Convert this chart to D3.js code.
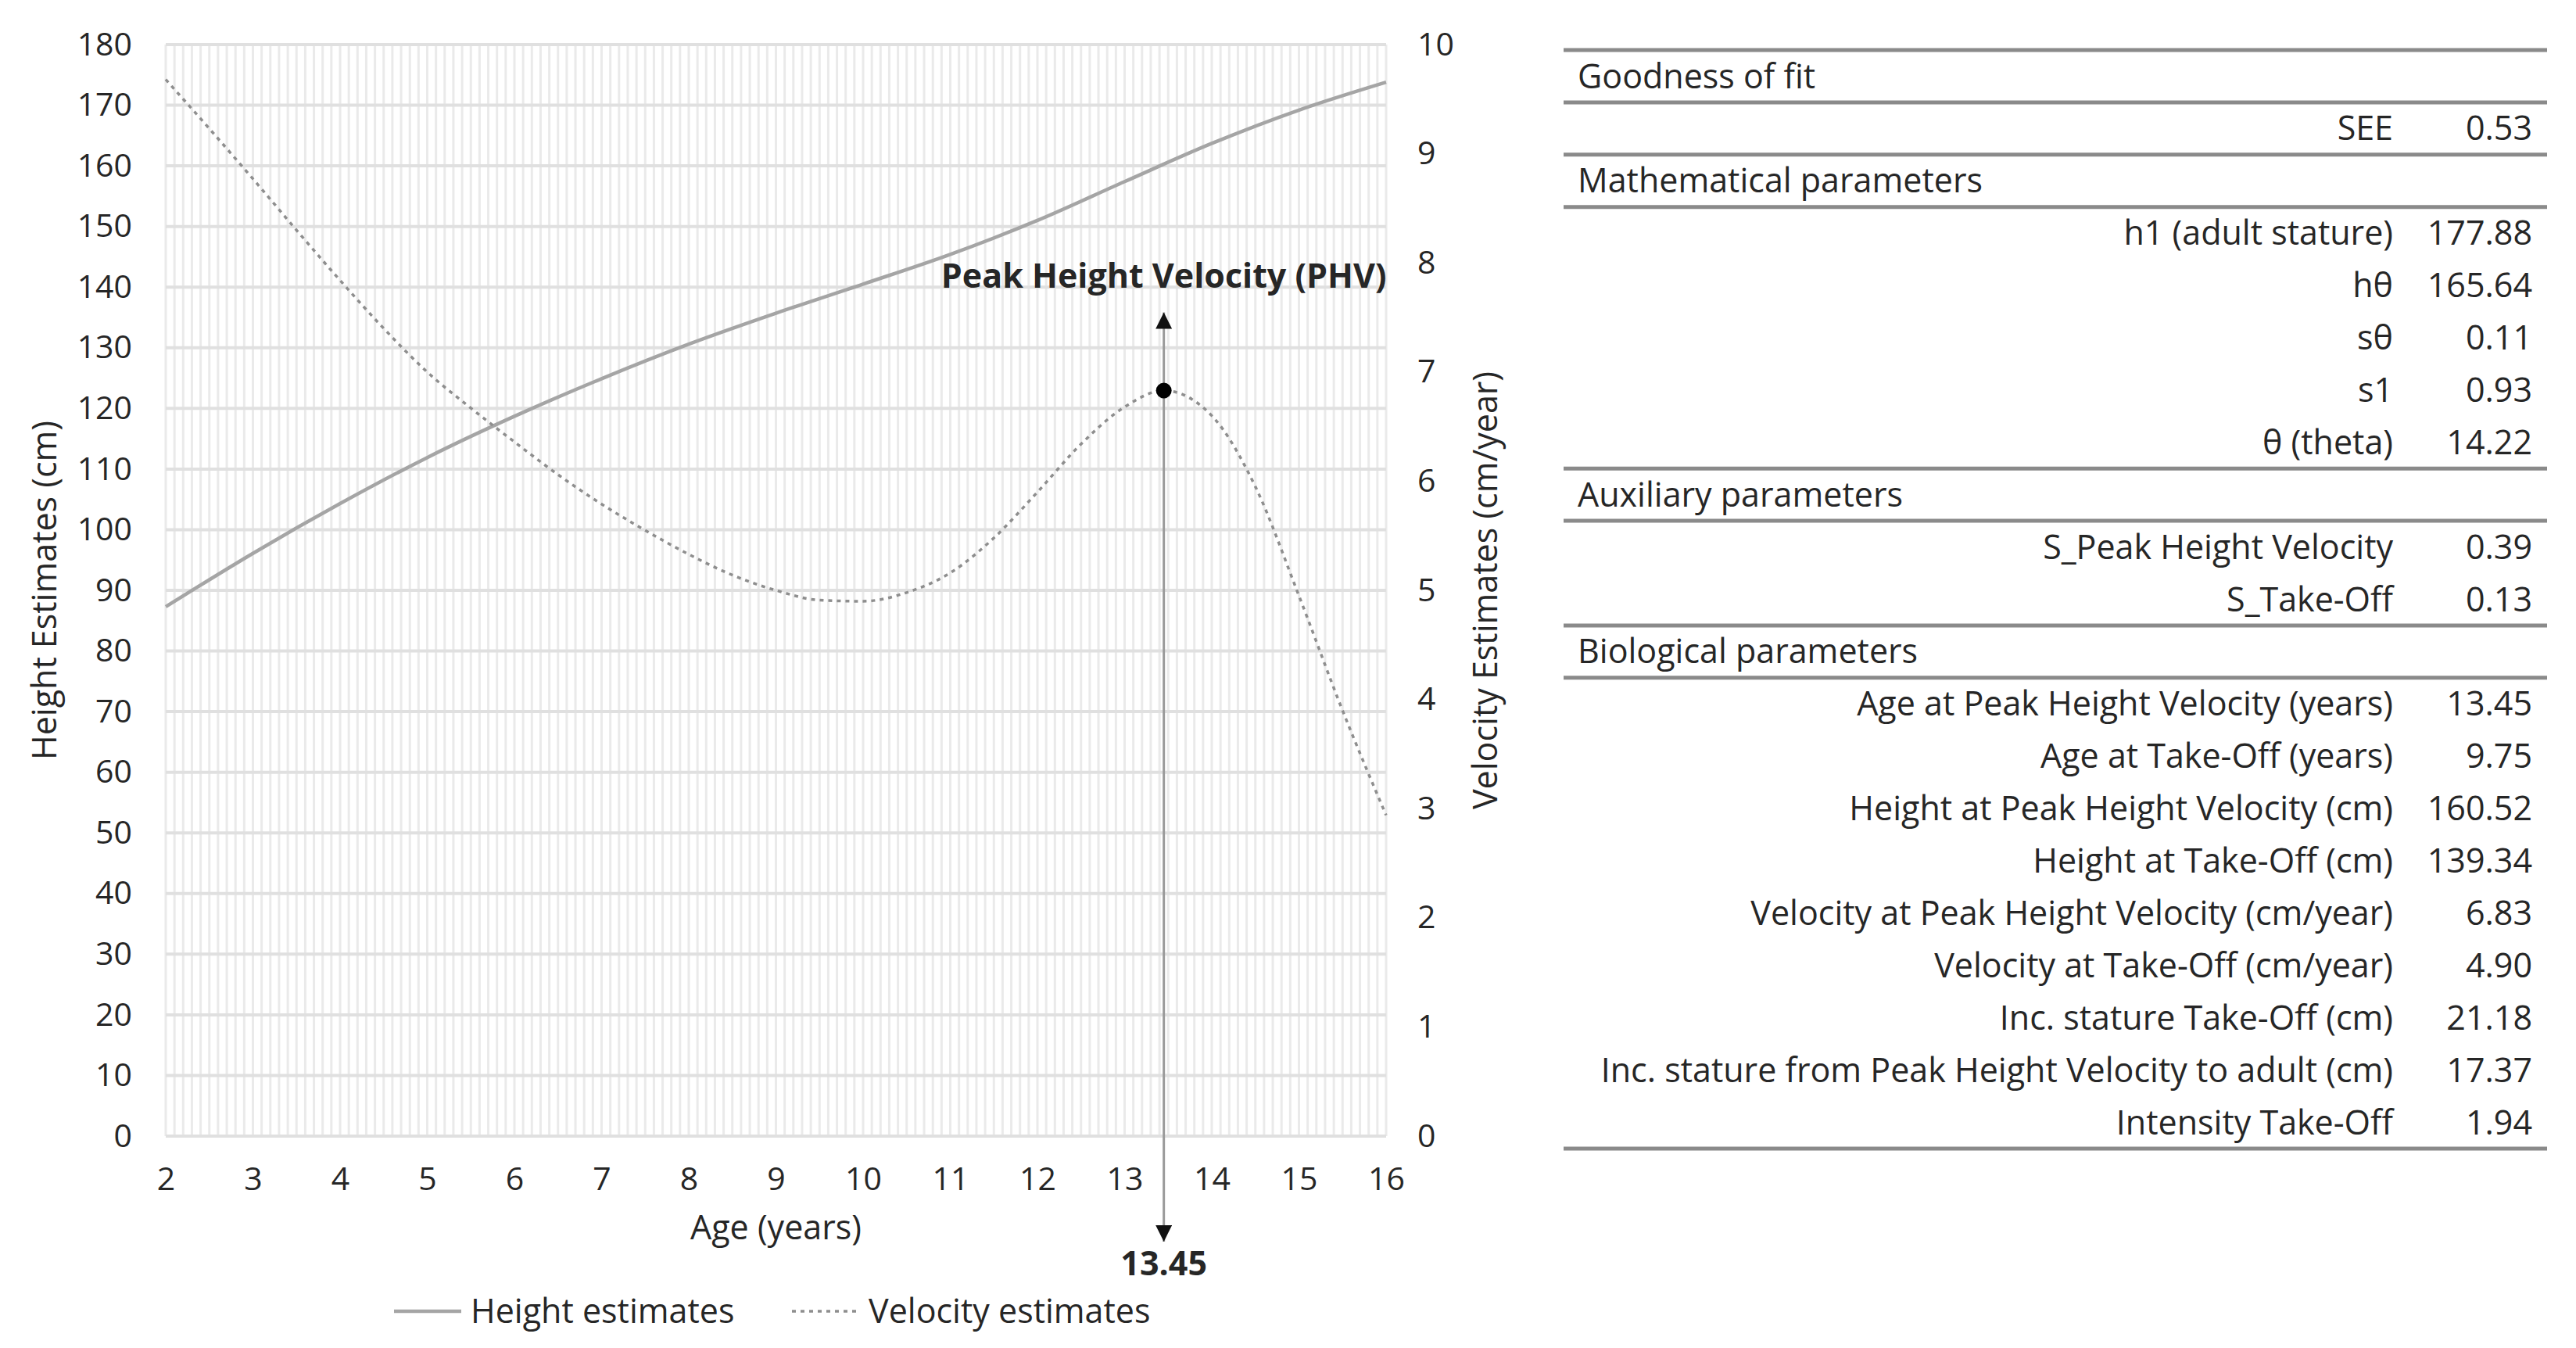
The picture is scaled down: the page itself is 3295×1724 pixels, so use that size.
<!DOCTYPE html>
<html>
<head>
<meta charset="utf-8">
<script src="https://cdn.jsdelivr.net/npm/d3@7"></script>
<style>
  body { margin: 0; background: #fff; }
  svg text { font-family: "Liberation Sans Narrow", "Arial Narrow", "Open Sans", sans-serif; fill: #262626; }
</style>
</head>
<body>
<div id="container"></div>
<script>
// ---- data ----
const xTicks = [2, 3, 4, 5, 6, 7, 8, 9, 10, 11, 12, 13, 14, 15, 16];
const heightTicks = [0, 10, 20, 30, 40, 50, 60, 70, 80, 90, 100, 110, 120, 130, 140, 150, 160, 170, 180];
const velocityTicks = [0, 1, 2, 3, 4, 5, 6, 7, 8, 9, 10];

const heightAges = [2, 3, 4, 5, 6, 7, 8, 9, 10, 11, 12, 13, 14, 15, 16];
const heightValues = [87.3, 96.1, 104.3, 111.9, 118.7, 124.9, 130.6, 135.7, 140.5, 145.4, 151.0, 157.4, 163.7, 169.2, 173.8];

const velocityAges = [2, 2.5, 3, 3.5, 4, 4.5, 5, 5.5, 6, 6.5, 7, 7.5, 8, 8.5, 9, 9.5, 10, 10.5, 11, 11.5, 12, 12.5, 13, 13.45, 14, 14.5, 15, 15.5, 16];
const velocityValues = [9.68, 9.23, 8.77, 8.30, 7.84, 7.40, 7.00, 6.67, 6.36, 6.06, 5.79, 5.55, 5.33, 5.14, 5.00, 4.91, 4.90, 4.98, 5.16, 5.48, 5.90, 6.34, 6.68, 6.83, 6.60, 5.95, 4.95, 3.90, 2.94];

const phvAge = 13.45;
const phvVelocity = 6.83;

const legendLabels = ["Height estimates", "Velocity estimates"];

const goodnessRows = [["SEE", "0.53"]];
const mathRows = [
    ["h1 (adult stature)", "177.88"],
    ["hθ", "165.64"],
    ["sθ", "0.11"],
    ["s1", "0.93"],
    ["θ (theta)", "14.22"]
];
const auxRows = [
    ["S_Peak Height Velocity", "0.39"],
    ["S_Take-Off", "0.13"]
];
const bioRows = [
    ["Age at Peak Height Velocity (years)", "13.45"],
    ["Age at Take-Off (years)", "9.75"],
    ["Height at Peak Height Velocity (cm)", "160.52"],
    ["Height at Take-Off (cm)", "139.34"],
    ["Velocity at Peak Height Velocity (cm/year)", "6.83"],
    ["Velocity at Take-Off (cm/year)", "4.90"],
    ["Inc. stature Take-Off (cm)", "21.18"],
    ["Inc. stature from Peak Height Velocity to adult (cm)", "17.37"],
    ["Intensity Take-Off", "1.94"]
];

// ---- layout ----
const width = 3295, height = 1724;
const plot = { left: 212, right: 1773, top: 57, bottom: 1453 };
const fontSize = 43;
const tickFontSize = 41;

const svg = d3.create("svg")
    .attr("width", width)
    .attr("height", height);

const defs = svg.append("defs");
defs.append("marker")
    .attr("id", "arrow")
    .attr("viewBox", "0 0 10 10")
    .attr("refX", 10).attr("refY", 5)
    .attr("markerWidth", 7).attr("markerHeight", 7)
    .attr("markerUnits", "strokeWidth")
    .attr("orient", "auto-start-reverse")
    .append("path")
    .attr("d", "M0,0L10,5L0,10Z")
    .attr("fill", "#111");

const x = d3.scaleLinear().domain([2, 16]).range([plot.left, plot.right]);
const yH = d3.scaleLinear().domain([0, 180]).range([plot.bottom, plot.top]);
const yV = d3.scaleLinear().domain([0, 10]).range([plot.bottom, plot.top]);

// vertical minor gridlines (one per 0.1 year)
const minorX = d3.range(20, 161).map(i => i / 10);
svg.append("g")
    .selectAll("line")
    .data(minorX)
    .join("line")
    .attr("x1", d => x(d)).attr("x2", d => x(d))
    .attr("y1", plot.top).attr("y2", plot.bottom)
    .attr("stroke", "#eaeaea")
    .attr("stroke-width", 3);

// horizontal major gridlines
svg.append("g")
    .selectAll("line")
    .data(heightTicks)
    .join("line")
    .attr("x1", plot.left).attr("x2", plot.right)
    .attr("y1", d => yH(d)).attr("y2", d => yH(d))
    .attr("stroke", "#e0e0e0")
    .attr("stroke-width", 4);

// axes (labels only)
const axisLeft = svg.append("g")
    .attr("transform", `translate(${plot.left},0)`)
    .call(d3.axisLeft(yH).tickValues(heightTicks).tickSize(0).tickPadding(43));
const axisRight = svg.append("g")
    .attr("transform", `translate(${plot.right},0)`)
    .call(d3.axisRight(yV).tickValues(velocityTicks).tickSize(0).tickPadding(40));
const axisBottom = svg.append("g")
    .attr("transform", `translate(0,${plot.bottom})`)
    .call(d3.axisBottom(x).tickValues(xTicks).tickFormat(d3.format("d")).tickSize(0).tickPadding(40));

[axisLeft, axisRight, axisBottom].forEach(a => {
    a.select(".domain").remove();
    a.selectAll("text")
        .style("font-size", tickFontSize + "px")
        .attr("fill", null);
    a.attr("font-family", null).attr("font-size", null);
});

// axis titles
svg.append("text")
    .attr("transform", `translate(57,${(plot.top + plot.bottom) / 2}) rotate(-90)`)
    .attr("text-anchor", "middle")
    .attr("dy", "0.35em")
    .style("font-size", fontSize + "px")
    .text("Height Estimates (cm)");

svg.append("text")
    .attr("transform", `translate(1900,${(plot.top + plot.bottom) / 2}) rotate(-90)`)
    .attr("text-anchor", "middle")
    .attr("dy", "0.35em")
    .style("font-size", fontSize + "px")
    .text("Velocity Estimates (cm/year)");

svg.append("text")
    .attr("x", (plot.left + plot.right) / 2)
    .attr("y", 1585)
    .attr("text-anchor", "middle")
    .style("font-size", fontSize + "px")
    .text("Age (years)");

// PHV annotation line
const phvX = x(phvAge);
svg.append("line")
    .attr("x1", phvX).attr("x2", phvX)
    .attr("y1", yV(phvVelocity) - 100)
    .attr("y2", plot.bottom + 135)
    .attr("stroke", "#9a9a9a")
    .attr("stroke-width", 3)
    .attr("marker-start", "url(#arrow)")
    .attr("marker-end", "url(#arrow)");

// curves
const heightLine = d3.line()
    .x(d => x(d[0]))
    .y(d => yH(d[1]))
    .curve(d3.curveMonotoneX);
const velocityLine = d3.line()
    .x(d => x(d[0]))
    .y(d => yV(d[1]))
    .curve(d3.curveMonotoneX);

svg.append("path")
    .datum(d3.zip(heightAges, heightValues))
    .attr("d", heightLine)
    .attr("fill", "none")
    .attr("stroke", "#a5a5a5")
    .attr("stroke-width", 4.5);

svg.append("path")
    .datum(d3.zip(velocityAges, velocityValues))
    .attr("d", velocityLine)
    .attr("fill", "none")
    .attr("stroke", "#8e8e8e")
    .attr("stroke-width", 3.5)
    .attr("stroke-dasharray", "5,6");

svg.append("circle")
    .attr("cx", phvX)
    .attr("cy", yV(phvVelocity))
    .attr("r", 10)
    .attr("fill", "#000");

svg.append("text")
    .attr("x", phvX)
    .attr("y", 368)
    .attr("text-anchor", "middle")
    .style("font-size", fontSize + "px")
    .style("font-weight", "bold")
    .text("Peak Height Velocity (PHV)");

svg.append("text")
    .attr("x", phvX)
    .attr("y", 1631)
    .attr("text-anchor", "middle")
    .style("font-size", fontSize + "px")
    .style("font-weight", "bold")
    .text(d3.format(".2f")(phvAge));

// legend
const legendY = 1677;
const legendItems = [
    { label: legendLabels[0], x: 504, dash: null, color: "#a5a5a5", w: 4.5 },
    { label: legendLabels[1], x: 1013, dash: "5,6", color: "#8e8e8e", w: 3.5 }
];
const legend = svg.append("g")
    .selectAll("g")
    .data(legendItems)
    .join("g")
    .attr("transform", d => `translate(${d.x},${legendY})`);
legend.append("line")
    .attr("x1", 0).attr("x2", 86)
    .attr("stroke", d => d.color)
    .attr("stroke-width", d => d.w)
    .attr("stroke-dasharray", d => d.dash);
legend.append("text")
    .attr("x", 98)
    .attr("dy", "0.35em")
    .style("font-size", fontSize + "px")
    .text(d => d.label);

// ---- parameter table ----
const table = { left: 2000, right: 3258, top: 64, rowH: 66.9, labelRight: 3061, valueRight: 3239 };
const sections = [
    { title: "Goodness of fit", rows: goodnessRows },
    { title: "Mathematical parameters", rows: mathRows },
    { title: "Auxiliary parameters", rows: auxRows },
    { title: "Biological parameters", rows: bioRows }
];

const tg = svg.append("g");
let row = 0;
const rule = r => {
    tg.append("line")
        .attr("x1", table.left).attr("x2", table.right)
        .attr("y1", table.top + r * table.rowH)
        .attr("y2", table.top + r * table.rowH)
        .attr("stroke", "#8a8a8a")
        .attr("stroke-width", 5);
};
rule(0);
sections.forEach(sec => {
    tg.append("text")
        .attr("x", table.left + 18)
        .attr("y", table.top + (row + 0.5) * table.rowH)
        .attr("dy", "0.35em")
        .style("font-size", fontSize + "px")
        .text(sec.title);
    row += 1;
    rule(row);
    sec.rows.forEach(([label, value]) => {
        const cy = table.top + (row + 0.5) * table.rowH;
        tg.append("text")
            .attr("x", table.labelRight).attr("y", cy)
            .attr("dy", "0.35em")
            .attr("text-anchor", "end")
            .style("font-size", fontSize + "px")
            .text(label);
        tg.append("text")
            .attr("x", table.valueRight).attr("y", cy)
            .attr("dy", "0.35em")
            .attr("text-anchor", "end")
            .style("font-size", fontSize + "px")
            .text(value);
        row += 1;
    });
    rule(row);
});

document.getElementById("container").append(svg.node());
</script>
</body>
</html>
